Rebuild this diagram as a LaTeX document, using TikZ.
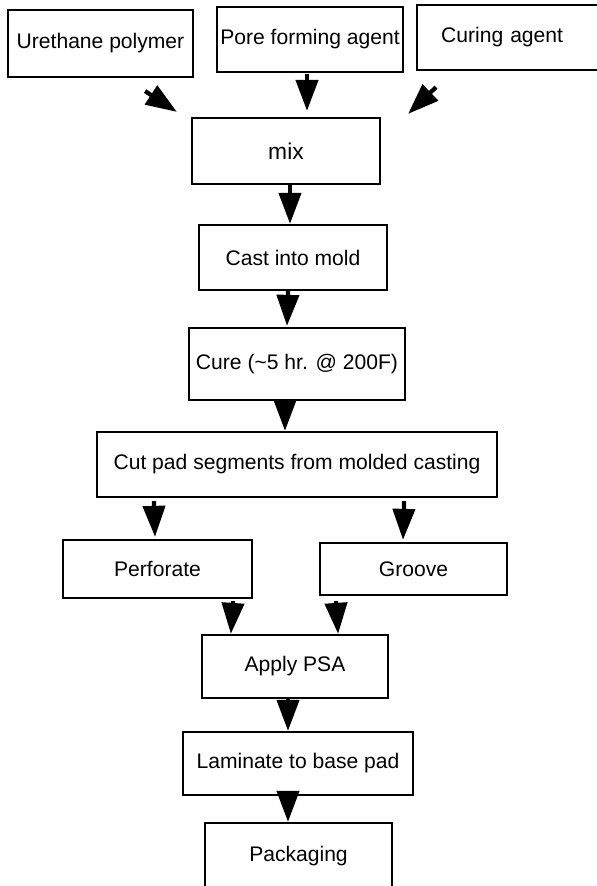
\documentclass[tikz,border=0pt]{standalone}
\usepackage{fontspec}
\setmainfont{Liberation Sans}
\usetikzlibrary{arrows.meta,calc}
\begin{document}
\begin{tikzpicture}[x=0.02cm,y=-0.02cm,
        stepbox/.style={draw,line width=1.3pt,inner sep=0pt,font=\fontsize{12}{14}\selectfont},
        flow/.style={line width=2.4pt,-{Triangle[length=0.62cm,width=0.44cm]}}]
                \useasboundingbox (0,0) rectangle (597,886);
                %% ingredients
                \node[stepbox,minimum width=3.7cm,minimum height=1.34cm] (ure) at (100.5,43.5) {Urethane polymer};
                \node[stepbox,minimum width=3.72cm,minimum height=1.3cm] (pore) at (310,39.5) {Pore forming agent};
                \node[stepbox,anchor=west,inner xsep=0.48cm,text width=3.52cm,align=left,minimum height=1.3cm] (curing) at (416,37.5) {Curing agent};
                %% process steps
                \node[stepbox,minimum width=3.76cm,minimum height=1.32cm,font=\fontsize{13}{15}\selectfont] (mix) at (286,151) {mix};
                \node[stepbox,minimum width=3.76cm,minimum height=1.3cm] (cast) at (293,257.5) {Cast into mold};
                \node[stepbox,minimum width=4.32cm,minimum height=1.44cm] (cure) at (297,364) {Cure (\textasciitilde5 hr. @ 200F)};
                \node[stepbox,minimum width=8cm,minimum height=1.3cm] (cut) at (297,464.5) {Cut pad segments from molded casting};
                \node[stepbox,minimum width=3.78cm,minimum height=1.16cm] (perf) at (157.5,569) {Perforate};
                \node[stepbox,minimum width=3.74cm,minimum height=1.04cm] (groove) at (413.5,569) {Groove};
                \node[stepbox,minimum width=3.72cm,minimum height=1.26cm] (psa) at (295,666.5) {Apply PSA};
                \node[stepbox,minimum width=4.6cm,minimum height=1.26cm] (lam) at (298,763.5) {Laminate to base pad};
                \node[stepbox,minimum width=3.74cm,minimum height=1.32cm] (pack) at (298.5,856) {Packaging};
                %% arrows into mix
                \draw[flow] ($(ure.south east)+(-49,13)$) -- ($(mix.north west)+(-14,-5)$);
                \draw[flow] ($(pore.south)+(-3,1)$) -- ($(mix.north)+(21,-6)$);
                \draw[flow] ($(curing.south west)+(20,16)$) -- ($(mix.north east)+(27,-3)$);
                %% main line
                \draw[flow] ($(mix.south)+(4,0)$) -- ($(cast.north)+(-3,0)$);
                \draw[flow] ($(cast.south)+(-5,0)$) -- ($(cure.north)+(-10,-1)$);
                \draw[flow] ($(cure.south)+(-12,0)$) -- ($(cut.north)+(-12,0)$);
                \draw[flow] ($(cut.south west)+(58,3)$) -- ($(perf.north)+(-2.5,-2)$);
                \draw[flow] ($(cut.south east)+(-94,3)$) -- ($(groove.north)+(-10.5,-2)$);
                \draw[flow] ($(perf.south east)+(-20,2)$) -- ($(psa.north west)+(30,0)$);
                \draw[flow] ($(groove.south west)+(17,5)$) -- ($(psa.north east)+(-51,0)$);
                \draw[flow] ($(psa.south)+(-7,0)$) -- ($(lam.north)+(-10,0)$);
                \draw[flow] ($(lam.south)+(-10,0)$) -- ($(pack.north)+(-10.5,0)$);
            \end{tikzpicture}
\end{document}
